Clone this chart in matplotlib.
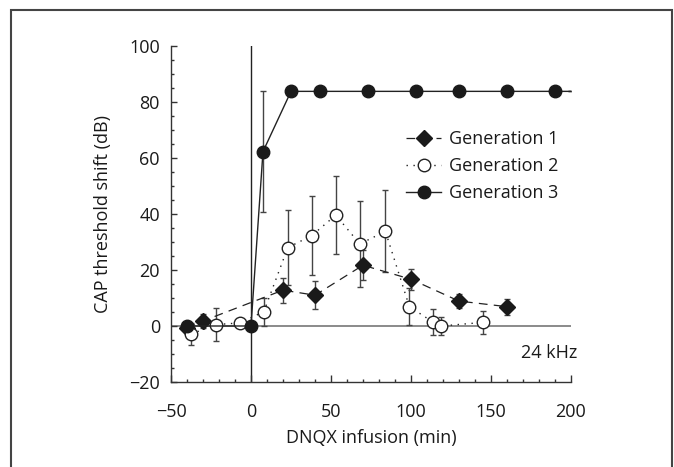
import matplotlib
matplotlib.use("Agg")
import matplotlib.pyplot as plt
from matplotlib.patches import Rectangle
from matplotlib.ticker import MultipleLocator

plt.rcParams['font.family'] = ['Open Sans', 'DejaVu Sans']

# Generation 1 (filled diamonds, dashed)
g1_x = [-40, -30, 20, 40, 70, 100, 130, 160]
g1_y = [-0.8, 1.8, 12.8, 11.0, 21.7, 16.7, 8.9, 6.9]
g1_e = [0.0, 2.6, 4.5, 5.0, 5.3, 3.8, 2.6, 2.8]

# Generation 2 (open circles, dotted)
g2_x = [-37.5, -22, -7, 8, 23, 38, 53, 68, 84, 99, 114, 119, 145]
g2_y = [-2.9, 0.5, 1.1, 5.1, 28.0, 32.3, 39.6, 29.3, 33.8, 6.9, 1.3, 0.0, 1.3]
g2_e = [4.0, 6.0, 0.0, 5.0, 13.5, 14.0, 14.0, 15.3, 14.6, 6.6, 4.6, 3.1, 4.0]

# Generation 3 (filled circles, solid); last point is the plateau line end
g3_x = [-40, 0, 7.5, 25, 43, 73, 103, 130, 160, 190, 200]
g3_y = [0, 0, 62.3, 83.8, 83.8, 83.8, 83.8, 83.8, 83.8, 83.8, 83.8]
g3_e = [0, 0, 21.5, 0, 0, 0, 0, 0, 0, 0, 0]

xticks = [-50, 0, 50, 100, 150, 200]
yticks = [-20, 0, 20, 40, 60, 80, 100]
xticklabels = ['\u221250', '0', '50', '100', '150', '200']
yticklabels = ['\u221220', '0', '20', '40', '60', '80', '100']

FS = 13

fig = plt.figure(figsize=(6.74, 4.67), dpi=100)
ax = fig.add_axes([171/674, 1-382/467, 400/674, 336/467])

fig.patches.append(Rectangle((11/674, -0.05), 661/674, 1.05 - 10/467,
                             transform=fig.transFigure, fill=False,
                             edgecolor='#444444', linewidth=1.5, zorder=0))

dark = '#222222'
ax.axhline(0, color='#777777', lw=1.2, zorder=1)
ax.axvline(0, color=dark, lw=1.0, zorder=1)

ekw = dict(ecolor='#444444', elinewidth=1.0, capsize=2.2, capthick=1.0)

ax.errorbar(g1_x, g1_y, yerr=g1_e, fmt='none', zorder=2, **ekw)
ax.plot(g1_x, g1_y, color=dark, lw=0.9, linestyle=(0, (7, 5)),
        marker='D', ms=8.5, mfc='#1a1a1a', mec='#1a1a1a', zorder=3,
        label='Generation 1')

ax.errorbar(g2_x, g2_y, yerr=g2_e, fmt='none', zorder=2, **ekw)
ax.plot(g2_x, g2_y, color=dark, lw=1.0, linestyle=(0, (1, 4)),
        marker='o', ms=9, mfc='white', mec=dark, mew=1.0, zorder=4,
        label='Generation 2')

ax.errorbar(g3_x, g3_y, yerr=g3_e, fmt='none', zorder=2, **ekw)
ax.plot(g3_x, g3_y, color=dark, lw=1.0, linestyle='-',
        marker='o', ms=9, mfc='#1a1a1a', mec='#1a1a1a',
        markevery=list(range(len(g3_x) - 1)), zorder=5,
        label='Generation 3')

ax.set_xlim(-50, 200)
ax.set_ylim(-20, 100)
ax.set_xticks(xticks)
ax.set_xticklabels(xticklabels)
ax.set_yticks(yticks)
ax.set_yticklabels(yticklabels)
ax.xaxis.set_minor_locator(MultipleLocator(10))
ax.yaxis.set_minor_locator(MultipleLocator(5))
ax.tick_params(which='both', direction='in', color='#333333', width=1.0,
               labelsize=FS, labelcolor='#1a1a1a')
ax.tick_params(axis='x', which='major', length=5, pad=15)
ax.tick_params(axis='x', which='minor', length=2.5)
ax.tick_params(axis='y', which='major', length=4, pad=8)
ax.tick_params(axis='y', which='minor', length=2.2)

for s in ['top', 'right']:
    ax.spines[s].set_visible(False)
for s in ['left', 'bottom']:
    ax.spines[s].set_color('#333333')
    ax.spines[s].set_linewidth(1.0)
ax.spines['left'].set_bounds(-20, 100)
ax.spines['bottom'].set_bounds(-50, 200)

ax.set_xlabel('DNQX infusion (min)', fontsize=FS, color='#1a1a1a', labelpad=6)
ax.set_ylabel('CAP threshold shift (dB)', fontsize=FS, color='#1a1a1a', labelpad=12)

ax.text(1.015, 0.085, '24 kHz', transform=ax.transAxes, ha='right', va='center',
        fontsize=FS, color='#1a1a1a')

leg = ax.legend(loc='upper left', bbox_to_anchor=(0.588, 0.75), frameon=False,
                fontsize=FS, handlelength=1.95, handletextpad=0.4,
                labelspacing=0.5, markerscale=1.0, borderaxespad=0,
                borderpad=0)
for t in leg.get_texts():
    t.set_color('#1a1a1a')

fig.savefig('out.png', dpi=100)
